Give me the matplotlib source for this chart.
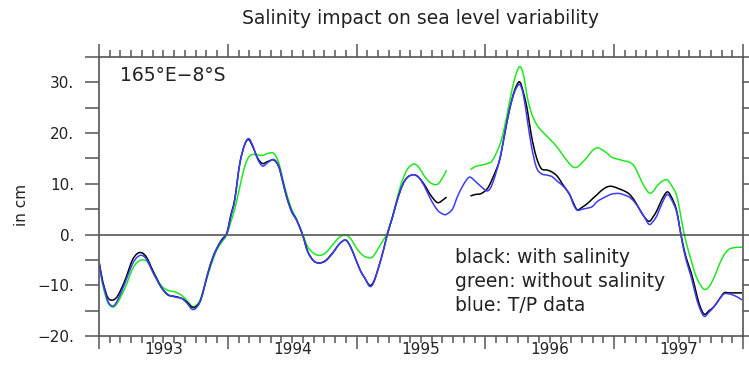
import numpy as np
import matplotlib
matplotlib.use("Agg")
import matplotlib.pyplot as plt
from matplotlib.path import Path
from matplotlib.patches import PathPatch
from matplotlib.ticker import MultipleLocator, FixedLocator

# time axis in decimal years
years = 1993 + np.array([
    0.000, 0.023, 0.039, 0.070, 0.109, 0.147, 0.202, 0.256, 0.295, 0.333,
    0.372, 0.419, 0.481, 0.535, 0.589, 0.643, 0.682, 0.721, 0.752, 0.791,
    0.845, 0.884, 0.915, 0.953, 0.992, 1.023, 1.054, 1.093, 1.132, 1.163,
    1.194, 1.233, 1.271, 1.310, 1.357, 1.395, 1.426, 1.457, 1.496, 1.535,
    1.581, 1.620, 1.667, 1.713, 1.760, 1.814, 1.868, 1.915, 1.953, 1.992,
    2.031, 2.062, 2.101, 2.132, 2.171, 2.209, 2.240, 2.279, 2.318, 2.357,
    2.395, 2.442, 2.481, 2.527, 2.574, 2.628, 2.674, 2.698, 2.744, 2.783,
    2.822, 2.860, 2.884, 2.922, 2.969, 3.016, 3.054, 3.109, 3.147, 3.186,
    3.225, 3.264, 3.295, 3.326, 3.357, 3.395, 3.434, 3.481, 3.519, 3.558,
    3.597, 3.651, 3.682, 3.713, 3.752, 3.791, 3.829, 3.868, 3.907, 3.946,
    3.984, 4.039, 4.078, 4.116, 4.155, 4.194, 4.233, 4.271, 4.302, 4.333,
    4.372, 4.411, 4.442, 4.481, 4.504, 4.527, 4.558, 4.597, 4.628, 4.659,
    4.698, 4.736, 4.775, 4.814, 4.853, 4.891, 4.930, 4.969, 4.992,
])

nan = np.nan

# model with salinity (black)
with_salinity = [
    -5.4, -8.5, -10.2, -12.5, -12.9, -12.0, -9.0, -5.2, -3.8, -3.6,
    -4.6, -7.2, -10.3, -11.9, -12.2, -12.6, -13.3, -14.3, -14.2, -12.8,
    -7.6, -4.5, -2.7, -1.0, 0.3, 3.8, 7.0, 14.0, 17.8, 18.7,
    17.3, 15.0, 14.0, 14.4, 14.7, 13.4, 10.5, 7.4, 4.5, 2.8,
    -0.1, -3.3, -5.2, -5.6, -5.1, -3.6, -1.8, -1.1, -2.4, -4.8,
    -7.2, -8.5, -10.0, -9.3, -6.4, -3.0, 0.2, 3.5, 7.0, 9.8,
    11.3, 11.8, 11.3, 9.8, 7.8, 6.3, 6.9, 7.4, nan, nan,
    nan, nan, 7.6, 7.9, 8.1, 9.1, 11.0, 14.6, 19.5, 24.5,
    28.3, 30.1, 28.0, 24.5, 19.5, 15.3, 13.0, 12.7, 12.3, 11.5,
    10.0, 8.0, 6.3, 4.9, 5.4, 6.1, 7.0, 7.9, 8.8, 9.4,
    9.5, 9.0, 8.6, 8.0, 6.8, 5.1, 3.5, 2.6, 3.5, 4.8,
    7.0, 8.4, 7.5, 5.1, 2.0, -1.1, -4.5, -7.5, -10.5, -13.6,
    -15.7, -15.0, -14.2, -12.8, -11.5, -11.5, -11.5, -11.5, -11.5,
]

# model without salinity (green)
without_salinity = [
    -5.6, -9.0, -11.0, -13.5, -14.3, -13.3, -10.5, -7.0, -5.5, -5.0,
    -5.3, -7.2, -10.0, -11.0, -11.3, -12.0, -13.0, -14.1, -14.0, -12.5,
    -8.0, -5.0, -3.0, -1.5, 0.0, 2.5, 5.0, 9.4, 13.5, 15.3,
    15.8, 15.7, 15.6, 16.0, 16.0, 14.2, 11.0, 8.0, 5.0, 3.0,
    0.0, -2.4, -3.7, -4.1, -3.6, -2.0, -0.5, -0.1, -0.8, -2.4,
    -3.7, -4.3, -4.6, -4.2, -2.6, -1.0, 0.4, 3.5, 7.5, 10.8,
    12.9, 13.9, 13.3, 11.5, 10.2, 9.9, 11.5, 12.7, nan, nan,
    nan, nan, 12.8, 13.4, 13.7, 14.0, 14.6, 17.5, 21.0, 26.0,
    30.5, 33.1, 31.5, 27.0, 24.0, 21.8, 20.5, 19.3, 18.3, 17.2,
    15.8, 14.0, 13.3, 13.3, 14.2, 15.3, 16.5, 17.1, 16.7, 16.0,
    15.2, 14.8, 14.5, 14.3, 13.5, 11.5, 9.5, 8.2, 8.5, 9.6,
    10.5, 10.8, 9.8, 8.0, 5.5, 2.2, -1.5, -5.0, -7.7, -9.5,
    -10.8, -10.3, -8.5, -6.0, -4.0, -2.9, -2.6, -2.5, -2.5,
]

# TOPEX/Poseidon altimetry (blue)
tp_data = [
    -5.4, -9.0, -10.5, -13.2, -14.1, -12.8, -9.5, -6.0, -4.5, -4.1,
    -5.0, -7.5, -10.3, -11.8, -12.3, -12.6, -13.5, -14.7, -14.5, -12.8,
    -7.6, -4.5, -2.7, -1.2, 0.2, 3.5, 6.8, 14.0, 17.8, 18.9,
    17.5, 14.8, 13.5, 14.2, 14.8, 13.5, 10.5, 7.4, 4.5, 2.8,
    -0.1, -3.4, -5.2, -5.6, -5.2, -3.7, -1.8, -1.1, -2.5, -4.8,
    -7.2, -8.5, -10.2, -9.5, -6.5, -3.0, 0.2, 3.5, 7.0, 9.8,
    11.3, 11.8, 11.3, 9.5, 7.0, 4.8, 4.0, 4.0, 5.0, 7.5,
    9.5, 11.0, 11.3, 10.5, 9.4, 8.6, 10.0, 14.6, 19.5, 24.5,
    28.0, 29.6, 27.5, 22.5, 17.5, 13.3, 12.0, 11.7, 11.4, 10.5,
    9.7, 8.1, 6.0, 4.8, 5.0, 5.2, 5.5, 6.5, 7.1, 7.6,
    8.0, 8.1, 7.8, 7.4, 6.5, 5.1, 3.5, 2.0, 2.6, 3.8,
    6.2, 7.9, 7.0, 4.8, 2.0, -1.4, -5.0, -8.3, -11.5, -14.2,
    -16.1, -15.3, -14.2, -12.8, -11.7, -11.7, -12.0, -12.5, -12.9,
]

year_labels = ["1993", "1994", "1995", "1996", "1997"]
legend_lines = ["black: with salinity", "green: without salinity", "blue: T/P data"]

axis_grey = "#555555"
text_col = "#222222"


def smooth_curve(x, y):
    """Catmull-Rom curve through the points, broken at NaN gaps."""
    x = np.asarray(x, float)
    y = np.asarray(y, float)
    ok = np.isfinite(y)
    verts, codes = [], []
    i = 0
    n = len(x)
    while i < n:
        if not ok[i]:
            i += 1
            continue
        j = i
        while j < n and ok[j]:
            j += 1
        pts = np.column_stack([x[i:j], y[i:j]])
        m = len(pts)
        verts.append(pts[0])
        codes.append(Path.MOVETO)
        for k in range(m - 1):
            p0 = pts[k - 1] if k > 0 else pts[k]
            p1 = pts[k]
            p2 = pts[k + 1]
            p3 = pts[k + 2] if k + 2 < m else pts[k + 1]
            verts += [p1 + (p2 - p0) / 6, p2 - (p3 - p1) / 6, p2]
            codes += [Path.CURVE4] * 3
        i = j
    return Path(verts, codes)


fig = plt.figure(figsize=(7.49, 3.69), dpi=100)
ax = fig.add_axes([0.1322, 0.0894, 0.8598, 0.7561])

for series, col in [(without_salinity, "#1fe81f"),
                    (with_salinity, "black"),
                    (tp_data, "#3c3cff")]:
    ax.add_patch(PathPatch(smooth_curve(years, series), fill=False,
                           edgecolor=col, lw=1.1))
ax.axhline(0, color=axis_grey, lw=1.2)

ax.set_xlim(1993, 1998)
ax.set_ylim(-20, 35)

# yearly ticks, monthly minor ticks, on top and bottom
ax.xaxis.set_major_locator(MultipleLocator(1))
ax.xaxis.set_minor_locator(MultipleLocator(1 / 12))
ax.tick_params(axis="x", which="both", direction="out", top=True, bottom=True,
               labelbottom=False, color=axis_grey, width=1.1)
ax.tick_params(axis="x", which="major", length=9.5)
ax.tick_params(axis="x", which="minor", length=5)
for i, lab in enumerate(year_labels):
    ax.text(1993.5 + i, -0.05, lab, transform=ax.get_xaxis_transform(),
            ha="center", va="center", fontsize=11, color=text_col)

ax.yaxis.set_major_locator(FixedLocator([-20, -10, 0, 10, 20, 30]))
ax.yaxis.set_minor_locator(MultipleLocator(5))
ax.set_yticklabels(["\u221220.", "\u221210.", "0.", "10.", "20.", "30."])
ax.tick_params(axis="y", which="both", direction="out", left=True, right=True,
               length=10, width=1.1, color=axis_grey, labelsize=11,
               labelcolor=text_col, pad=8)

for sp in ax.spines.values():
    sp.set_color(axis_grey)
    sp.set_linewidth(1.2)

ax.set_ylabel("in cm", fontsize=11, color=text_col)
ax.yaxis.set_label_coords(-0.108, 0.47)

fig.text(0.562, 0.951, "Salinity impact on sea level variability",
         ha="center", va="center", fontsize=13.5, color=text_col)
ax.text(0.033, 0.935, "165\u00b0E\u22128\u00b0S", transform=ax.transAxes,
        ha="left", va="center", fontsize=13.5, color=text_col)

for i, line in enumerate(legend_lines):
    ax.text(0.553, 0.283 - i * 0.087, line, transform=ax.transAxes,
            ha="left", va="center", fontsize=13.5, color=text_col)

fig.savefig("out.png", dpi=100)
